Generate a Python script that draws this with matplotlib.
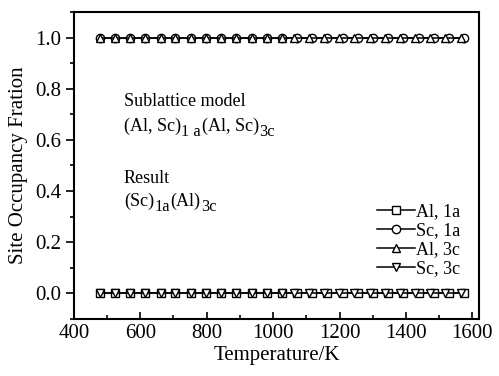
import numpy as np
import matplotlib
matplotlib.use("Agg")
import matplotlib.pyplot as plt
from matplotlib.ticker import MultipleLocator
from matplotlib.transforms import IdentityTransform

plt.rcParams['font.family'] = ['Liberation Serif', 'DejaVu Serif']

# temperatures of plotted markers (K)
T_1a = [478, 524, 569, 615, 661, 706, 752, 798, 844, 889, 935, 981, 1026,
        1072, 1118, 1163, 1209, 1255, 1301, 1346, 1392, 1438, 1483, 1529, 1575]
T_3c = [478, 524, 569, 615, 661, 706, 752, 798, 844, 889, 935, 981, 1026,
        1062, 1108, 1153, 1199, 1245, 1291, 1336, 1382, 1428, 1473, 1519, 1565]

# site fractions
al_1a = [0.0] * len(T_1a)
sc_1a = [1.0] * len(T_1a)
al_3c = [1.0] * len(T_3c)
sc_3c = [0.0] * len(T_3c)

series = [
    (T_1a, al_1a, 's', 'Al, 1a'),
    (T_1a, sc_1a, 'o', 'Sc, 1a'),
    (T_3c, al_3c, '^', 'Al, 3c'),
    (T_3c, sc_3c, 'v', 'Sc, 3c'),
]

fig = plt.figure(figsize=(4.99, 3.76), dpi=100)
ax = fig.add_axes([0.148, 0.152, 0.812, 0.816])

for t, y, m, lab in series:
    ax.plot(t, y, color='black', lw=1.1, marker=m, ms=6, mfc='white',
            mec='black', mew=1.0, label=lab)

ax.set_xlim(400, 1620)
ax.set_ylim(-0.1, 1.1)
ax.xaxis.set_major_locator(MultipleLocator(200))
ax.xaxis.set_minor_locator(MultipleLocator(100))
ax.yaxis.set_major_locator(MultipleLocator(0.2))
ax.yaxis.set_minor_locator(MultipleLocator(0.1))
ax.tick_params(axis='x', which='major', direction='in', length=5, width=1.2, labelsize=15, pad=4)
ax.tick_params(axis='x', which='minor', direction='in', length=3, width=1.2)
ax.tick_params(axis='y', which='major', direction='out', length=6, width=1.2, labelsize=15, pad=3)
ax.tick_params(axis='y', which='minor', direction='out', length=3, width=1.2)
for s in ax.spines.values():
    s.set_linewidth(1.5)

ax.set_xlabel('Temperature/K', fontsize=15, labelpad=2)
ax.set_ylabel('Site Occupancy Fration', fontsize=15, labelpad=5)


# text with Origin-style large subscripts, laid out piece by piece
def formula(x, y, parts, size=13):
    renderer = fig.canvas.get_renderer()
    cx, cy = ax.transData.transform((x, y))
    for s, sub in parts:
        fs = size * 0.9 if sub else size
        dy = -5 if sub else 0
        t = fig.text(cx, cy + dy, s, fontsize=fs, transform=IdentityTransform(),
                     va='baseline')
        cx += t.get_window_extent(renderer).width + (1 if sub else 0)


ax.text(551, 0.731, 'Sublattice model', fontsize=13)
formula(551, 0.634, [('(Al, Sc)', False), ('1 a', True),
                     ('(Al, Sc)', False), ('3c', True)])
ax.text(551, 0.430, 'Result', fontsize=13)
formula(551, 0.340, [('(Sc)', False), ('1a', True),
                     ('(Al)', False), ('3c', True)])

ax.legend(loc='upper left', bbox_to_anchor=(0.748, 0.378), frameon=False,
          fontsize=13, handlelength=2.1, handletextpad=0.05, labelspacing=0.12,
          borderpad=0, borderaxespad=0)

fig.savefig('out.png', dpi=100)
